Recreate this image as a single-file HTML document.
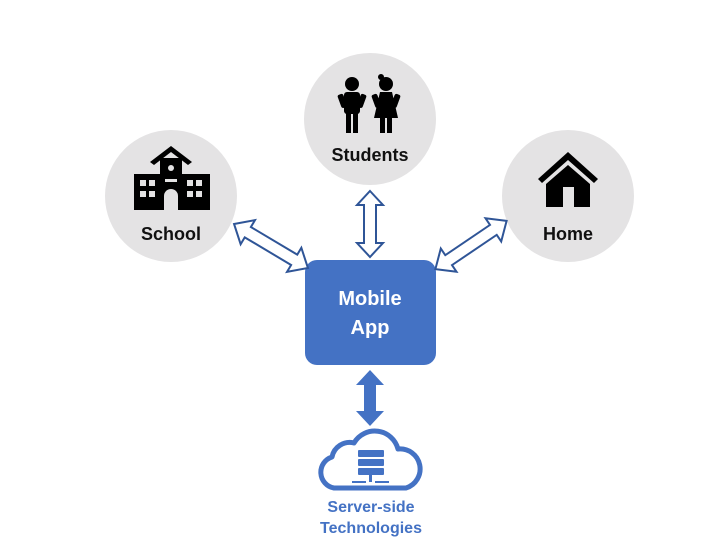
<!DOCTYPE html>
<html><head><meta charset="utf-8"><style>
html,body{margin:0;padding:0;background:#fff;}
svg{display:block;}
text{font-family:"Liberation Sans",sans-serif;font-weight:bold;}
</style></head><body>
<svg width="722" height="552" viewBox="0 0 722 552" xmlns="http://www.w3.org/2000/svg">
<defs>
<polygon id="da" points="-43,0 -27,-14 -27,-6 27,-6 27,-14 43,0 27,14 27,6 -27,6 -27,14"/>
<polygon id="db" points="-33,0 -19,-13 -19,-6 19,-6 19,-13 33,0 19,13 19,6 -19,6 -19,13"/>
</defs>
<circle cx="171" cy="196" r="66" fill="#e4e3e4"/>
<circle cx="370" cy="119" r="66" fill="#e4e3e4"/>
<circle cx="568" cy="196" r="66" fill="#e4e3e4"/>
<text x="171" y="240" font-size="18" text-anchor="middle" fill="#111">School</text>
<text x="370" y="161" font-size="18" text-anchor="middle" fill="#111">Students</text>
<text x="568" y="240" font-size="18" text-anchor="middle" fill="#111">Home</text>
<g fill="#000">
<polygon points="171,146 150,162 154,165 171,152 188,165 192,162"/>
<rect x="160" y="158" width="22" height="52"/>
<rect x="134" y="174" width="76" height="36"/>
</g>
<g fill="#e4e3e4">
<circle cx="171" cy="168" r="3"/>
<rect x="140" y="180" width="6" height="6"/><rect x="149" y="180" width="6" height="6"/>
<rect x="140" y="191" width="6" height="6"/><rect x="149" y="191" width="6" height="6"/>
<rect x="187" y="180" width="6" height="6"/><rect x="196" y="180" width="6" height="6"/>
<rect x="187" y="191" width="6" height="6"/><rect x="196" y="191" width="6" height="6"/>
<rect x="165" y="179" width="12" height="3"/>
<path d="M164,210 V196 a7,7 0 0 1 14,0 V210 Z"/>
</g>
<g fill="#000">
<circle cx="352" cy="84" r="7"/>
<rect x="344" y="92" width="16" height="22" rx="3"/>
<rect x="339" y="94" width="6" height="14" rx="2" transform="rotate(-20 342 100)"/>
<rect x="359" y="94" width="6" height="14" rx="2" transform="rotate(20 362 100)"/>
<rect x="346" y="113" width="5" height="20"/><rect x="353" y="113" width="5" height="20"/>
<circle cx="386" cy="84" r="7"/>
<circle cx="381" cy="77" r="3"/>
<polygon points="380,92 392,92 398,118 374,118"/>
<rect x="373" y="94" width="6" height="14" rx="2" transform="rotate(-20 376 100)"/>
<rect x="393" y="94" width="6" height="14" rx="2" transform="rotate(20 396 100)"/>
<rect x="380" y="117" width="5" height="16"/><rect x="387" y="117" width="5" height="16"/>
</g>
<g fill="#000">
<polygon points="568,152 538,179 542,183 568,160 594,183 598,179"/>
<polygon points="568,165 546,184 546,207 590,207 590,184"/>
</g>
<rect x="563" y="187" width="11" height="20" fill="#e4e3e4"/>
<rect x="305" y="260" width="131" height="105" rx="12" fill="#4472c4"/>
<text x="370" y="305" font-size="20" text-anchor="middle" fill="#fff">Mobile</text>
<text x="370" y="334" font-size="20" text-anchor="middle" fill="#fff">App</text>
<g fill="#fff" stroke="#2f5597" stroke-width="2" stroke-linejoin="miter">
<use href="#da" transform="translate(271,246) rotate(30.8)"/>
<use href="#da" transform="translate(471,245) rotate(145.9)"/>
<use href="#db" transform="translate(370,224) rotate(90)"/>
</g>
<polygon points="370,370 384,385 376,385 376,411 384,411 370,426 356,411 364,411 364,385 356,385" fill="#4472c4"/>
<path d="M334,488 a16,16 0 0 1 -2,-31 a18,18 0 0 1 22,-14 a24,24 0 0 1 44,6 a20,20 0 0 1 8,39 Z" fill="none" stroke="#4472c4" stroke-width="5" stroke-linejoin="round"/>
<g fill="#4472c4">
<rect x="358" y="450" width="26" height="7" rx="1"/>
<rect x="358" y="459" width="26" height="7" rx="1"/>
<rect x="358" y="468" width="26" height="7" rx="1"/>
<rect x="369" y="475" width="3" height="7"/>
<rect x="352" y="481" width="14" height="2"/><rect x="375" y="481" width="14" height="2"/>
</g>
<text x="371" y="512" font-size="16" text-anchor="middle" fill="#4472c4">Server-side</text>
<text x="371" y="533" font-size="16" text-anchor="middle" fill="#4472c4">Technologies</text>
</svg>
</body></html>
